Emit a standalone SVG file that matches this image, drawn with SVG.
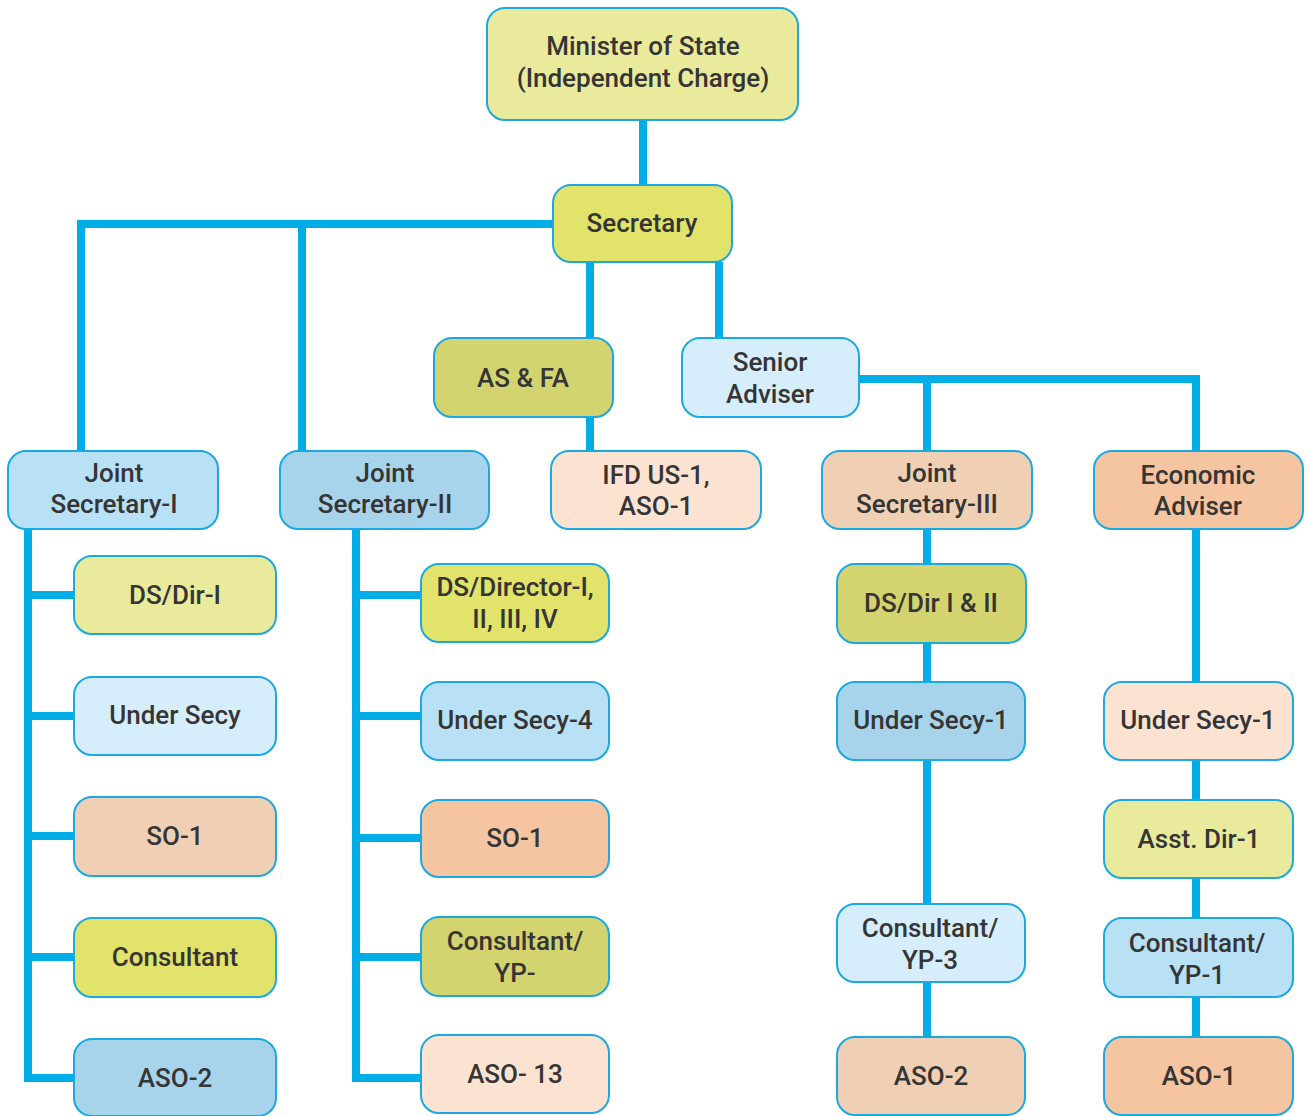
<svg xmlns="http://www.w3.org/2000/svg" width="1306" height="1116" viewBox="0 0 1306 1116">
<style>
.c{fill:none;stroke:#00ade6;stroke-width:8;stroke-linejoin:miter;stroke-linecap:butt}
.b{stroke:#1aa9e0;stroke-width:2}
text{font-family:Roboto,"Liberation Sans",sans-serif;font-size:26px;font-weight:500;fill:#353535;text-anchor:middle}
.y1{fill:#e9ea9b}.y2{fill:#e2e36b}.ol{fill:#d3d46f}
.lb{fill:#d6eefb}.mb{fill:#b9e1f5}.db{fill:#a8d4eb}
.pc{fill:#fce3d1}.tn{fill:#f0d0b5}.or{fill:#f5c4a0}
</style>
<rect width="1306" height="1116" fill="#fff"/>
<g id="connectors">
<path class="c" d="M643 120V185"/>
<path class="c" d="M553 224H81V451"/>
<path class="c" d="M302 224V451"/>
<path class="c" d="M590 262V338"/>
<path class="c" d="M719 262V338"/>
<path class="c" d="M590 417V451"/>
<path class="c" d="M859 379H1196V451"/>
<path class="c" d="M927 379V451"/>
<path class="c" d="M28 529V1078H74"/>
<path class="c" d="M28 595H74M28 716H74M28 836H74M28 957H74"/>
<path class="c" d="M356 529V1078H421"/>
<path class="c" d="M356 595H421M356 716H421M356 838H421M356 957H421"/>
<path class="c" d="M927 529V564M927 643V682M927 760V904M927 982V1037"/>
<path class="c" d="M1196 529V682M1196 760V800M1196 878V918M1196 997V1037"/>
</g>
<g id="minister"><rect class="b y1" x="487" y="8" width="311" height="112" rx="18"/><text x="643" y="55">Minister of State</text><text x="643" y="87">(Independent Charge)</text></g>
<g id="secretary"><rect class="b y2" x="553" y="185" width="179" height="77" rx="18"/><text x="642" y="232">Secretary</text></g>
<g id="asfa"><rect class="b ol" x="434" y="338" width="179" height="79" rx="18"/><text x="523" y="387">AS &amp; FA</text></g>
<g id="senior-adviser"><rect class="b lb" x="682" y="338" width="177" height="79" rx="18"/><text x="770" y="371">Senior</text><text x="770" y="403">Adviser</text></g>
<g id="js1"><rect class="b mb" x="8" y="451" width="210" height="78" rx="18"/><text x="114" y="482">Joint</text><text x="114" y="513">Secretary-I</text></g>
<g id="js2"><rect class="b db" x="280" y="451" width="209" height="78" rx="18"/><text x="385" y="482">Joint</text><text x="385" y="513">Secretary-II</text></g>
<g id="ifd"><rect class="b pc" x="551" y="451" width="210" height="78" rx="18"/><text x="656" y="484">IFD US-1,</text><text x="656" y="515">ASO-1</text></g>
<g id="js3"><rect class="b tn" x="822" y="451" width="210" height="78" rx="18"/><text x="927" y="482">Joint</text><text x="927" y="513">Secretary-III</text></g>
<g id="ea"><rect class="b or" x="1094" y="451" width="209" height="78" rx="18"/><text x="1198" y="484">Economic</text><text x="1198" y="515">Adviser</text></g>
<g id="dsdir1"><rect class="b y1" x="74" y="556" width="202" height="78" rx="18"/><text x="175" y="604">DS/Dir-I</text></g>
<g id="undersecy"><rect class="b lb" x="74" y="677" width="202" height="78" rx="18"/><text x="175" y="724">Under Secy</text></g>
<g id="so1-a"><rect class="b tn" x="74" y="797" width="202" height="79" rx="18"/><text x="175" y="845">SO-1</text></g>
<g id="consultant"><rect class="b y2" x="74" y="918" width="202" height="79" rx="18"/><text x="175" y="966">Consultant</text></g>
<g id="aso2-a"><rect class="b db" x="74" y="1039" width="202" height="77" rx="18"/><text x="175" y="1087">ASO-2</text></g>
<g id="dsdirector"><rect class="b y2" x="421" y="564" width="188" height="78" rx="18"/><text x="515" y="596">DS/Director-I,</text><text x="515" y="628">II, III, IV</text></g>
<g id="undersecy4"><rect class="b mb" x="421" y="682" width="188" height="78" rx="18"/><text x="515" y="729">Under Secy-4</text></g>
<g id="so1-b"><rect class="b or" x="421" y="800" width="188" height="77" rx="18"/><text x="515" y="847">SO-1</text></g>
<g id="consultant-yp"><rect class="b ol" x="421" y="917" width="188" height="79" rx="18"/><text x="515" y="950">Consultant/</text><text x="515" y="982">YP-</text></g>
<g id="aso13"><rect class="b pc" x="421" y="1035" width="188" height="78" rx="18"/><text x="515" y="1083">ASO- 13</text></g>
<g id="dsdir12"><rect class="b ol" x="837" y="564" width="189" height="79" rx="18"/><text x="931" y="612">DS/Dir I &amp; II</text></g>
<g id="undersecy1-a"><rect class="b db" x="837" y="682" width="188" height="78" rx="18"/><text x="931" y="729">Under Secy-1</text></g>
<g id="consultant-yp3"><rect class="b lb" x="837" y="904" width="188" height="78" rx="18"/><text x="930" y="937">Consultant/</text><text x="930" y="969">YP-3</text></g>
<g id="aso2-b"><rect class="b tn" x="837" y="1037" width="188" height="78" rx="18"/><text x="931" y="1085">ASO-2</text></g>
<g id="undersecy1-b"><rect class="b pc" x="1104" y="682" width="189" height="78" rx="18"/><text x="1198" y="729">Under Secy-1</text></g>
<g id="asstdir1"><rect class="b y1" x="1104" y="800" width="189" height="78" rx="18"/><text x="1199" y="848">Asst. Dir-1</text></g>
<g id="consultant-yp1"><rect class="b mb" x="1104" y="918" width="189" height="79" rx="18"/><text x="1197" y="952">Consultant/</text><text x="1197" y="984">YP-1</text></g>
<g id="aso1"><rect class="b or" x="1104" y="1037" width="189" height="78" rx="18"/><text x="1199" y="1085">ASO-1</text></g>
</svg>
